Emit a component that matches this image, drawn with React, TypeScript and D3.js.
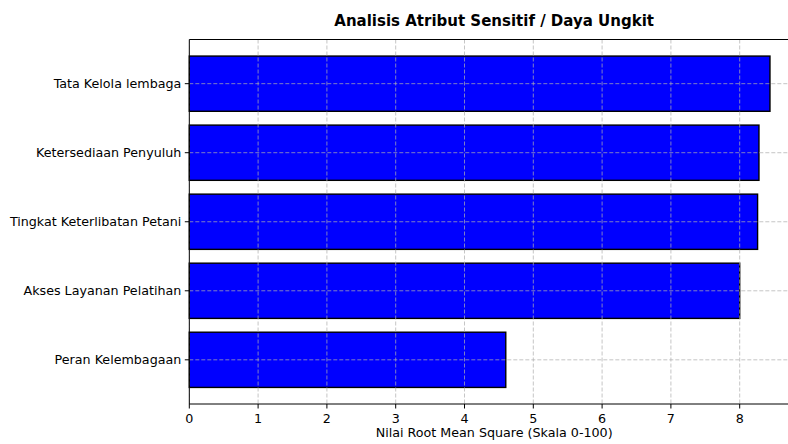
import React from "react";
import * as d3 from "d3";

const categories = [
  "Tata Kelola lembaga",
  "Ketersediaan Penyuluh",
  "Tingkat Keterlibatan Petani",
  "Akses Layanan Pelatihan",
  "Peran Kelembagaan",
];
const values = [8.44, 8.28, 8.26, 8.0, 4.6];
const xTicks = [0, 1, 2, 3, 4, 5, 6, 7, 8];
const title = "Analisis Atribut Sensitif / Daya Ungkit";
const xLabel = "Nilai Root Mean Square (Skala 0-100)";

export default function App() {
  const W = 788, H = 444;
  const left = 189.3, top = 39.5, bottom = 404;
  const xMax = d3.max(values)! * 1.05;
  const unit = 68.8;
  const right = left + xMax * unit;
  const x = d3.scaleLinear().domain([0, xMax]).range([left, right]);
  const n = categories.length;
  const y = d3.scaleLinear().domain([-0.64, n - 1 + 0.64]).range([bottom, top]);
  const pos = (i: number) => n - 1 - i;
  const font = "DejaVu Sans, sans-serif";
  const fs = 12.7;
  const gridStyle = { stroke: "#b0b0b0", strokeWidth: 0.9, strokeDasharray: "4,2", opacity: 0.8 };

  return (
    <svg width={W} height={H} style={{ position: "absolute", left: 0, top: 0, background: "#fff" }}>
      <defs>
        <clipPath id="clip">
          <rect x={left} y={top} width={right - left} height={bottom - top} />
        </clipPath>
      </defs>
      {values.map((v, i) => {
        const yc = y(pos(i));
        const h = y(0) - y(0.8);
        return (
          <rect key={i} x={x(0)} y={yc - h / 2} width={x(v) - x(0)} height={h}
            fill="#0000ff" stroke="#000" strokeWidth={1.4} />
        );
      })}
      <g clipPath="url(#clip)">
        {xTicks.map((t) => (
          <line key={"gx" + t} x1={x(t)} x2={x(t)} y1={top} y2={bottom} style={gridStyle} />
        ))}
        {categories.map((c, i) => (
          <line key={"gy" + i} x1={left} x2={right} y1={y(pos(i))} y2={y(pos(i))} style={gridStyle} />
        ))}
      </g>
      <line x1={left} x2={left} y1={top} y2={bottom} stroke="#000" strokeWidth={1} />
      <line x1={left} x2={right} y1={bottom} y2={bottom} stroke="#000" strokeWidth={1} />
      <line x1={left} x2={right} y1={top} y2={top} stroke="#000" strokeWidth={1} />
      <line x1={right} x2={right} y1={top} y2={bottom} stroke="#000" strokeWidth={1} />
      {xTicks.map((t) => (
        <g key={"xt" + t}>
          <line x1={x(t)} x2={x(t)} y1={bottom} y2={bottom + 4.5} stroke="#000" strokeWidth={1} />
          <text x={x(t)} y={bottom + 18.5} textAnchor="middle" fontFamily={font} fontSize={fs} fill="#000">{t}</text>
        </g>
      ))}
      {categories.map((c, i) => (
        <g key={"yt" + i}>
          <line x1={left - 4.5} x2={left} y1={y(pos(i))} y2={y(pos(i))} stroke="#000" strokeWidth={1} />
          <text x={left - 8} y={y(pos(i))} dy="0.35em" textAnchor="end" fontFamily={font} fontSize={fs} fill="#000">{c}</text>
        </g>
      ))}
      <text x={(left + right) / 2} y={437} textAnchor="middle" fontFamily={font} fontSize={fs} fill="#000">{xLabel}</text>
      <text x={(left + right) / 2} y={26} textAnchor="middle" fontFamily={font} fontSize={15} fontWeight="bold" fill="#000">{title}</text>
    </svg>
  );
}
